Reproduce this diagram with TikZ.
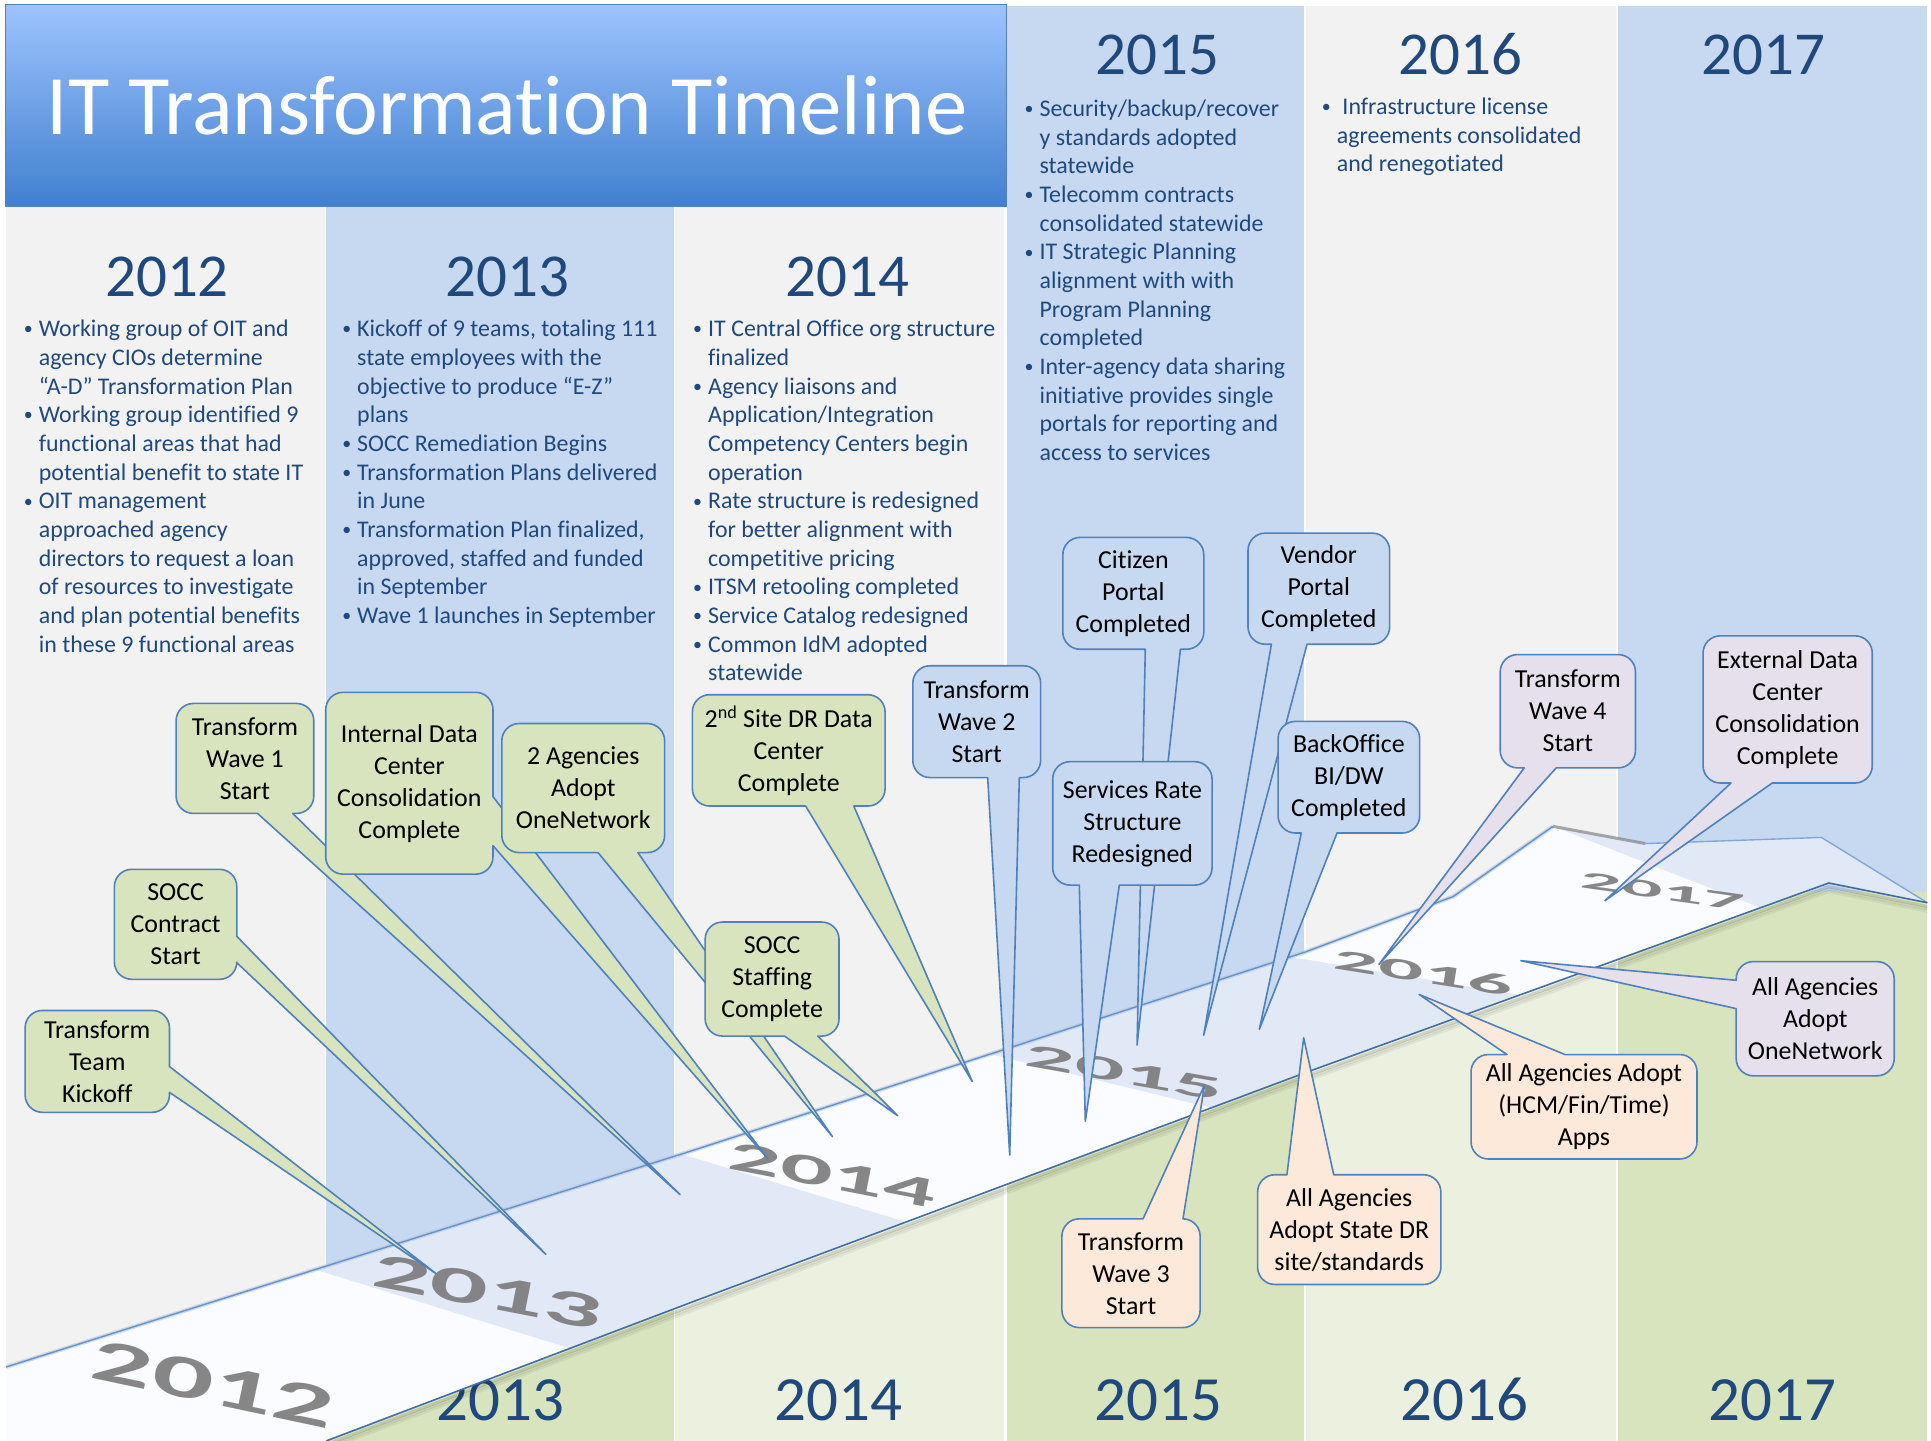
\documentclass[tikz,border=0pt]{standalone}
\usepackage{fontspec}
\usepackage{graphicx}
\setmainfont[Ligatures={NoCommon}]{Carlito}
\usetikzlibrary{calc}

\definecolor{colgray}{HTML}{F2F2F2}
\definecolor{colblue}{HTML}{C6D9F1}
\definecolor{colgreen}{HTML}{D7E4BD}
\definecolor{collight}{HTML}{EBF1DE}
\definecolor{yeartext}{HTML}{1F497D}
\definecolor{calloutline}{HTML}{4F81BD}
\definecolor{peach}{HTML}{FDE9D9}
\definecolor{lavender}{HTML}{E5E0EC}
\definecolor{bandblue}{HTML}{E1E9F6}
\definecolor{bandwhite}{HTML}{FAFCFF}
\definecolor{titletop}{HTML}{9DC3FE}
\definecolor{titlebot}{HTML}{4080CF}

\tikzset{
  cbox/.style={draw=calloutline, line width=1.6pt, line join=round},
  ctext/.style={align=center, inner sep=0pt, text=black, font=\fontsize{25.9pt}{32pt}\selectfont},
  bodytext/.style={anchor=base west, inner sep=0pt, text=yeartext, font=\fontsize{23.9pt}{28.67pt}\selectfont},
  yearhead/.style={anchor=base, inner sep=0pt, text=yeartext, font=\fontsize{61pt}{61pt}\selectfont},
  yearfoot/.style={anchor=base, inner sep=0pt, text=yeartext, font=\fontsize{63pt}{63pt}\selectfont},
  bandlabel/.style={text=black!52, opacity=0.9, inner sep=0pt},
}

\newcommand{\bulletmark}{\llap{\makebox[21pt][c]{\raisebox{0.15ex}{\scalebox{0.75}{\textbullet}}}}}
% corner radius and control distance
\newcommand{\cornerrad}{14}
\newcommand{\cornerk}{6.3}

% callout with pointer: fill, x1, y1, x2, y2, a, b, tip
\newcommand{\calloutbot}[8]{%
  \draw[cbox, fill=#1] (#2,{(#3+#5)/2})
    -- (#2,{#5-\cornerrad}) .. controls (#2,{#5-\cornerk}) and ({#2+\cornerk},#5) .. ({#2+\cornerrad},#5)
    -- (#6,#5) -- (#8) -- (#7,#5)
    -- ({#4-\cornerrad},#5) .. controls ({#4-\cornerk},#5) and (#4,{#5-\cornerk}) .. (#4,{#5-\cornerrad})
    -- (#4,{#3+\cornerrad}) .. controls (#4,{#3+\cornerk}) and ({#4-\cornerk},#3) .. ({#4-\cornerrad},#3)
    -- ({#2+\cornerrad},#3) .. controls ({#2+\cornerk},#3) and (#2,{#3+\cornerk}) .. (#2,{#3+\cornerrad}) -- cycle;}
\newcommand{\callouttop}[8]{%
  \draw[cbox, fill=#1] (#2,{(#3+#5)/2})
    -- (#2,{#5-\cornerrad}) .. controls (#2,{#5-\cornerk}) and ({#2+\cornerk},#5) .. ({#2+\cornerrad},#5)
    -- ({#4-\cornerrad},#5) .. controls ({#4-\cornerk},#5) and (#4,{#5-\cornerk}) .. (#4,{#5-\cornerrad})
    -- (#4,{#3+\cornerrad}) .. controls (#4,{#3+\cornerk}) and ({#4-\cornerk},#3) .. ({#4-\cornerrad},#3)
    -- (#7,#3) -- (#8) -- (#6,#3)
    -- ({#2+\cornerrad},#3) .. controls ({#2+\cornerk},#3) and (#2,{#3+\cornerk}) .. (#2,{#3+\cornerrad}) -- cycle;}
\newcommand{\calloutright}[8]{%
  \draw[cbox, fill=#1] ({(#2+#4)/2},#3)
    -- ({#4-\cornerrad},#3) .. controls ({#4-\cornerk},#3) and (#4,{#3+\cornerk}) .. (#4,{#3+\cornerrad})
    -- (#4,#6) -- (#8) -- (#4,#7)
    -- (#4,{#5-\cornerrad}) .. controls (#4,{#5-\cornerk}) and ({#4-\cornerk},#5) .. ({#4-\cornerrad},#5)
    -- ({#2+\cornerrad},#5) .. controls ({#2+\cornerk},#5) and (#2,{#5-\cornerk}) .. (#2,{#5-\cornerrad})
    -- (#2,{#3+\cornerrad}) .. controls (#2,{#3+\cornerk}) and ({#2+\cornerk},#3) .. ({#2+\cornerrad},#3) -- cycle;}
\newcommand{\calloutleft}[8]{%
  \draw[cbox, fill=#1] ({(#2+#4)/2},#3)
    -- ({#4-\cornerrad},#3) .. controls ({#4-\cornerk},#3) and (#4,{#3+\cornerk}) .. (#4,{#3+\cornerrad})
    -- (#4,{#5-\cornerrad}) .. controls (#4,{#5-\cornerk}) and ({#4-\cornerk},#5) .. ({#4-\cornerrad},#5)
    -- ({#2+\cornerrad},#5) .. controls ({#2+\cornerk},#5) and (#2,{#5-\cornerk}) .. (#2,{#5-\cornerrad})
    -- (#2,#7) -- (#8) -- (#2,#6)
    -- (#2,{#3+\cornerrad}) .. controls (#2,{#3+\cornerk}) and ({#2+\cornerk},#3) .. ({#2+\cornerrad},#3) -- cycle;}

\begin{document}
\begin{tikzpicture}[x=1.2315pt, y=-1.2315pt]
\useasboundingbox (0,0) rectangle (1568,1170);
\fill[white] (0,0) rectangle (1568,1170);

% year columns
\fill[colgray] (5,168) rectangle (263.5,1170);
\fill[colblue] (265,168) rectangle (547,1170);
\fill[colgray] (548.5,168) rectangle (815.5,1170);
\fill[colblue] (817.5,5) rectangle (1058.5,1170);
\fill[colgray] (1060.5,5) rectangle (1312.5,1170);
\fill[colblue] (1314,5) rectangle (1565,1170);

% band outline points
\coordinate (bt0) at (5,1110);
\coordinate (bt1) at (560,935);
\coordinate (bt2) at (1060,773);
\coordinate (bt3) at (1180,728);
\coordinate (fold1) at (1261,671);
\coordinate (fold2) at (1336,685);
\coordinate (ah1) at (1479,680);
\coordinate (tip) at (1565,733);
\coordinate (ah2) at (1485,717);
\coordinate (bb3) at (1060,871);
\coordinate (bb2) at (560,1058);
\coordinate (bb1) at (265,1170);
\coordinate (bb0) at (5,1170);

% lower part of the columns
\begin{scope}
  \clip (bb1) -- (bb2) -- (bb3) -- (1314,779) -- (1314,724) -- (1568,724) -- (1568,1170) -- cycle;
  \fill[colgreen] (265,700) rectangle (547,1170);
  \fill[collight] (548.5,700) rectangle (815.5,1170);
  \fill[colgreen] (817.5,700) rectangle (1058.5,1170);
  \fill[collight] (1060.5,700) rectangle (1312.5,1170);
  \fill[colgreen] (1314,700) rectangle (1565,1170);
\end{scope}

% title
\shadedraw[top color=titletop, bottom color=titlebot, draw=calloutline, line width=1pt] (4.2,4) rectangle (817,167.8);
\node[anchor=base, inner sep=0pt, text=white, font=\fontsize{84.7pt}{84.7pt}\selectfont] (title) at (411.9,109.6) {IT Transformation Timeline};

% headings
\node[yearhead] (h2012) at (135.6,240.9) {2012};
\node[yearhead] (h2013) at (412.3,240.4) {2013};
\node[yearhead] (h2014) at (688,241) {2014};
\node[yearhead] (h2015) at (940,60.1) {2015};
\node[yearhead] (h2016) at (1186.2,60.1) {2016};
\node[yearhead] (h2017) at (1431.7,60.1) {2017};

% bullet lists
\node[bodytext] (t2012) at (31.4,273.4) {\begin{tabular}[t]{@{}l@{}}
\bulletmark Working group of OIT and\\
agency CIOs determine\\
“A-D” Transformation Plan\\
\bulletmark Working group identified 9\\
functional areas that had\\
potential benefit to state IT\\
\bulletmark OIT management\\
approached agency\\
directors to request a loan\\
of resources to investigate\\
and plan potential benefits\\
in these 9 functional areas
\end{tabular}};
\node[bodytext] (t2013) at (289.9,273.4) {\begin{tabular}[t]{@{}l@{}}
\bulletmark Kickoff of 9 teams, totaling 111\\
state employees with the\\
objective to produce “E-Z”\\
plans\\
\bulletmark SOCC Remediation Begins\\
\bulletmark Transformation Plans delivered\\
in June\\
\bulletmark Transformation Plan finalized,\\
approved, staffed and funded\\
in September\\
\bulletmark Wave 1 launches in September
\end{tabular}};
\node[bodytext] (t2014) at (574.9,273.4) {\begin{tabular}[t]{@{}l@{}}
\bulletmark IT Central Office org structure\\
finalized\\
\bulletmark Agency liaisons and\\
Application/Integration\\
Competency Centers begin\\
operation\\
\bulletmark Rate structure is redesigned\\
for better alignment with\\
competitive pricing\\
\bulletmark ITSM retooling completed\\
\bulletmark Service Catalog redesigned\\
\bulletmark Common IdM adopted\\
statewide
\end{tabular}};
\node[bodytext] (t2015) at (844,94.5) {\begin{tabular}[t]{@{}l@{}}
\bulletmark Security/backup/recover\\
y standards adopted\\
statewide\\
\bulletmark Telecomm contracts\\
consolidated statewide\\
\bulletmark IT Strategic Planning\\
alignment with with\\
Program Planning\\
completed\\
\bulletmark Inter-agency data sharing\\
initiative provides single\\
portals for reporting and\\
access to services
\end{tabular}};
\node[bodytext] (t2016) at (1085.4,93.1) {\begin{tabular}[t]{@{}l@{}}
\bulletmark\hspace{5.6pt}Infrastructure license\\
agreements consolidated\\
and renegotiated
\end{tabular}};

% bottom years
\node[yearfoot] (f2013) at (406.5,1153.6) {2013};
\node[yearfoot] (f2014) at (681,1153.6) {2014};
\node[yearfoot] (f2015) at (941,1153.6) {2015};
\node[yearfoot] (f2016) at (1189,1153.6) {2016};
\node[yearfoot] (f2017) at (1439,1153.6) {2017};

% timeline band
\foreach \s/\o in {7/0.05,5/0.08,3/0.12}
  \draw[line width=3pt, black, opacity=\o] ($(bb1)+(0,\s)$) -- ($(bb2)+(0,\s)$) -- ($(bb3)+(0,\s)$) -- ($(ah2)+(0,\s)$) -- ($(tip)+(0,\s)$);
\fill[bandblue] (bt0) -- (bt1) -- (bt2) -- (bt3) -- (fold1) -- (fold2) -- (ah1) -- (tip) -- (ah2) -- (bb3) -- (bb2) -- (bb1) -- (bb0) -- cycle;
\fill[bandwhite] (bt0) -- (256,1031) -- (463,1095) -- (bb1) -- (bb0) -- cycle;
\fill[bandwhite] (553,937) -- (bt1) -- (804,856) -- (985,900) -- (735,992) -- cycle;
\fill[bandwhite] (1048,777) -- (bt2) -- (bt3) -- (fold1) -- (1429,737) -- (1235,808) -- cycle;
\draw[line width=4pt, calloutline!45, opacity=0.6] (bt0) -- (bt1) -- (bt2) -- (bt3) -- (fold1);
\draw[line width=1.4pt, calloutline!85] (bt0) -- (bt1) -- (bt2) -- (bt3) -- (fold1);
\draw[line width=3pt, black!55, opacity=0.6] (fold1) -- (fold2);
\draw[line width=1.4pt, calloutline!70, line join=round] (fold2) -- (ah1) -- (tip);
\draw[line width=1.6pt, calloutline!85!black, line join=round] (bb1) -- (bb2) -- (bb3) -- (ah2) -- (tip);

% years printed on the band
\node[bandlabel, rotate=-12, yscale=0.5, font=\bfseries\fontsize{121pt}{121pt}\selectfont] (band2012) at (173,1124) {2012};
\node[bandlabel, rotate=-11, yscale=0.44, font=\bfseries\fontsize{115pt}{115pt}\selectfont] (band2013) at (396,1049) {2013};
\node[bandlabel, rotate=-11, yscale=0.41, font=\bfseries\fontsize{104pt}{104pt}\selectfont] (band2014) at (676,954) {2014};
\node[bandlabel, rotate=-10, yscale=0.34, font=\bfseries\fontsize{99pt}{99pt}\selectfont] (band2015) at (913,871) {2015};
\node[bandlabel, rotate=-9, yscale=0.33, font=\bfseries\fontsize{89pt}{89pt}\selectfont] (band2016) at (1156,790) {2016};
\node[bandlabel, rotate=-8, yscale=0.3, font=\bfseries\fontsize{82pt}{82pt}\selectfont] (band2017) at (1350,724) {2017};

% pointer tips
\coordinate (wave1 tip) at (552.2,970);
\coordinate (kickoff tip) at (353.8,1034);
\coordinate (socc tip) at (443.2,1018.5);
\coordinate (internal tip) at (623.6,941);
\coordinate (agencies tip) at (676,923);
\coordinate (staffing tip) at (729,906);
\coordinate (site tip) at (789.5,878.2);
\coordinate (wave2 tip) at (819.9,937.9);
\coordinate (citizen tip) at (923.3,848.6);
\coordinate (rates tip) at (881.3,910.5);
\coordinate (vendor tip) at (977.4,840.6);
\coordinate (backoffice tip) at (1022.6,835.8);
\coordinate (wave3 tip) at (978.1,881.1);
\coordinate (statedr tip) at (1058.6,842.7);
\coordinate (hcm tip) at (1152.3,807.5);
\coordinate (wave4 tip) at (1119.8,783);
\coordinate (external tip) at (1303.3,731.3);
\coordinate (onenet tip) at (1235,780.1);

% green callouts
\calloutbot{colgreen}{143}{571.2}{254.8}{660.5}{209.1}{237.7}{wave1 tip}
\node[ctext] (wave1) at (198.9,615.9) {Transform\\Wave 1\\Start};
\calloutright{colgreen}{20.4}{820.5}{137.6}{903.2}{866}{887}{kickoff tip}
\node[ctext] (kickoff) at (79,861.9) {Transform\\Team\\Kickoff};
\calloutright{colgreen}{92.9}{705.9}{192.3}{795.2}{760.3}{781.7}{socc tip}
\node[ctext] (socccontract) at (142.6,750.6) {SOCC\\Contract\\Start};
\calloutright{colgreen}{264.5}{562.2}{400.3}{709.8}{646.8}{686.7}{internal tip}
\node[ctext] (internaldc) at (332.4,636) {Internal Data\\Center\\Consolidation\\Complete};
\calloutbot{colgreen}{407.5}{587.5}{539.7}{692.3}{485.6}{518}{agencies tip}
\node[ctext] (agencies) at (473.6,639.9) {2 Agencies\\Adopt\\OneNetwork};
\calloutbot{colgreen}{572.6}{748.7}{681.3}{841.3}{637}{664}{staffing tip}
\node[ctext] (staffing) at (627,795) {SOCC\\Staffing\\Complete};
\calloutbot{colgreen}{562.2}{564.1}{718.7}{654.5}{654.2}{693.3}{site tip}
\node[ctext] (sitedr) at (640.5,609.3) {2\textsuperscript{nd} Site DR Data\\Center\\Complete};

% blue callouts
\calloutbot{colblue}{741.2}{540.6}{845}{631.4}{802}{827.7}{wave2 tip}
\node[ctext] (wave2) at (793.1,586) {Transform\\Wave 2\\Start};
\calloutbot{colblue}{863}{436.4}{977.5}{527.2}{930}{958.5}{citizen tip}
\node[ctext] (citizen) at (920.3,481.8) {Citizen\\Portal\\Completed};
\calloutbot{colblue}{854.8}{618.5}{984.2}{718.7}{876.4}{908.9}{rates tip}
\node[ctext] (rates) at (919.5,668.6) {Services Rate\\Structure\\Redesigned};
\calloutbot{colblue}{1013.4}{432.9}{1128.4}{523.1}{1032.4}{1061.3}{vendor tip}
\node[ctext] (vendor) at (1070.9,478) {Vendor\\Portal\\Completed};
\calloutbot{colblue}{1037.8}{585.8}{1152.8}{676.4}{1056.7}{1085.7}{backoffice tip}
\node[ctext] (backoffice) at (1095.3,631.1) {BackOffice\\BI/DW\\Completed};

% peach callouts
\callouttop{peach}{862.3}{989.7}{974.5}{1078}{928.2}{960.6}{wave3 tip}
\node[ctext] (wave3) at (918.4,1033.9) {Transform\\Wave 3\\Start};
\callouttop{peach}{1021.2}{953.9}{1170}{1043}{1045}{1083}{statedr tip}
\node[ctext] (statedr) at (1095.6,998.5) {All Agencies\\Adopt State DR\\site/standards};
\callouttop{peach}{1194.5}{856.3}{1378}{941.1}{1223.7}{1270.8}{hcm tip}
\node[ctext] (hcm) at (1286.2,898.7) {All Agencies Adopt\\(HCM/Fin/Time)\\Apps};

% lavender callouts
\calloutbot{lavender}{1218.2}{531.5}{1328}{623.5}{1237.7}{1263.7}{wave4 tip}
\node[ctext] (wave4) at (1273.1,577.5) {Transform\\Wave 4\\Start};
\calloutbot{lavender}{1382.9}{516.3}{1520.3}{635.8}{1405.6}{1439.1}{external tip}
\node[ctext] (externaldc) at (1451.6,576) {External Data\\Center\\Consolidation\\Complete};
\calloutleft{lavender}{1409.8}{780.8}{1538.1}{873.6}{796}{819}{onenet tip}
\node[ctext] (onenetwork) at (1474,827.2) {All Agencies\\Adopt\\OneNetwork};
\end{tikzpicture}
\end{document}
